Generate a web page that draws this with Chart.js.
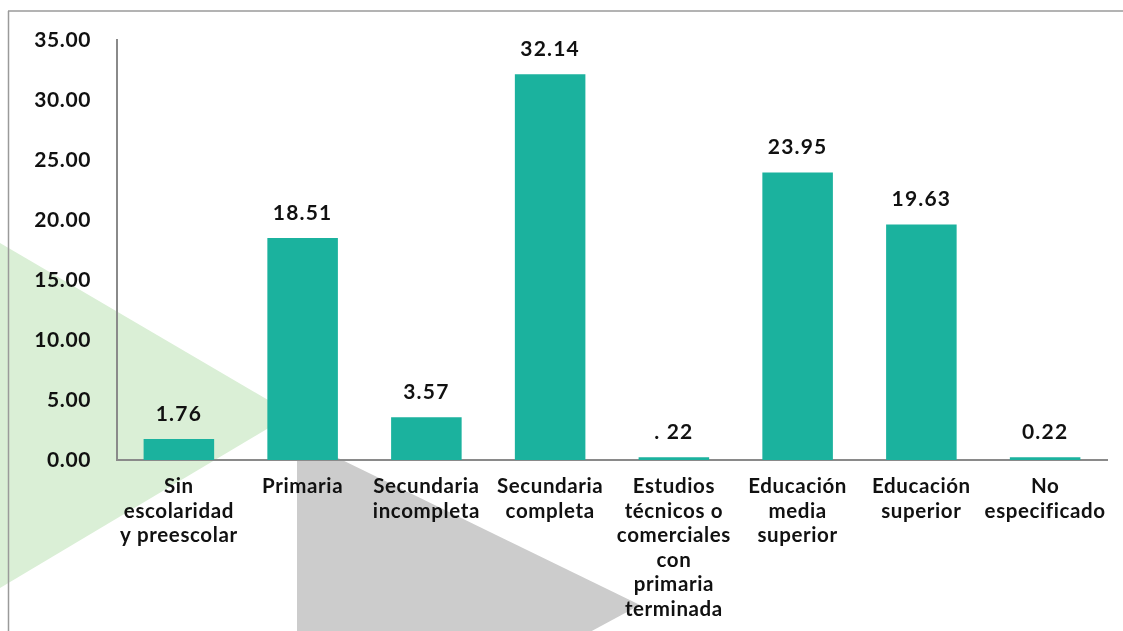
<!DOCTYPE html>
<html>
<head>
<meta charset="utf-8">
<script src="https://cdn.jsdelivr.net/npm/chart.js@4"></script>
<style>
  html, body { margin: 0; padding: 0; background: #fff; }
  #wrap { position: relative; width: 1123px; height: 631px; overflow: hidden; }
  #bg { position: absolute; left: 0; top: 0; }
  #chart { position: absolute; left: 0; top: 0; }
</style>
</head>
<body>
<div id="wrap">
  <!-- decorative background: triangles + frame -->
  <svg id="bg" width="1123" height="631">
    <polygon points="0,243 292,414 0,588" fill="#daefd6"/>
    <polygon points="297,438 640,605 297,790" fill="#cccccc"/>
    <line x1="8" y1="11" x2="1123" y2="11" stroke="#9a9a9a" stroke-width="1.5"/>
    <line x1="8.5" y1="11" x2="8.5" y2="631" stroke="#9a9a9a" stroke-width="1.5"/>
  </svg>
  <canvas id="chart" width="1123" height="631"></canvas>
</div>
<script>
// ---------- Data ----------
const categories = [
  ["Sin", "escolaridad", "y preescolar"],
  ["Primaria"],
  ["Secundaria", "incompleta"],
  ["Secundaria", "completa"],
  ["Estudios", "técnicos o", "comerciales", "con", "primaria", "terminada"],
  ["Educación", "media", "superior"],
  ["Educación", "superior"],
  ["No", "especificado"]
];
const values = [1.76, 18.51, 3.57, 32.14, 0.22, 23.95, 19.63, 0.22];
const valueLabels = ["1.76", "18.51", "3.57", "32.14", ". 22", "23.95", "19.63", "0.22"];

const FONT = "Lato, 'DejaVu Sans', sans-serif";

// wider letter spacing, closer to the original's geometric font
const spacing = {
  id: "spacing",
  beforeUpdate(chart) { chart.ctx.letterSpacing = "0.6px"; },
  beforeDraw(chart) { chart.ctx.letterSpacing = "0.6px"; }
};

// ---------- Value labels above bars ----------
const barLabels = {
  id: "barLabels",
  afterDatasetsDraw(chart) {
    const ctx = chart.ctx;
    const meta = chart.getDatasetMeta(0);
    ctx.save();
    ctx.letterSpacing = "1.2px";
    ctx.font = "bold 21px " + FONT;
    ctx.fillStyle = "#111";
    ctx.textAlign = "center";
    ctx.textBaseline = "middle";
    meta.data.forEach((bar, i) => {
      ctx.fillText(valueLabels[i], bar.x, bar.y - 25);
    });
    ctx.restore();
  }
};

new Chart(document.getElementById("chart").getContext("2d"), {
  type: "bar",
  data: {
    labels: categories,
    datasets: [{
      data: values,
      backgroundColor: "#1bb29e",
      categoryPercentage: 1,
      barPercentage: 0.57
    }]
  },
  options: {
    responsive: false,
    animation: false,
    layout: { padding: { top: 40, right: 16, left: 0, bottom: 0 } },
    plugins: { legend: { display: false }, tooltip: { enabled: false } },
    scales: {
      y: {
        min: 0,
        max: 35,
        afterFit(scale) { scale.width = 117; },
        grid: { display: false, drawTicks: false },
        border: { display: true, color: "#8a8a8a", width: 2 },
        ticks: {
          stepSize: 5,
          padding: 26,
          color: "#111",
          font: { family: FONT, size: 21, weight: "bold" },
          callback: v => v.toFixed(2)
        }
      },
      x: {
        afterFit(scale) { scale.height = 171; },
        grid: { display: false, drawTicks: false },
        border: { display: true, color: "#8a8a8a", width: 2 },
        ticks: {
          padding: 14,
          maxRotation: 0,
          autoSkip: false,
          color: "#111",
          font: { family: FONT, size: 20.5, weight: "bold", lineHeight: 1.2 }
        }
      }
    }
  },
  plugins: [spacing, barLabels]
});
</script>
</body>
</html>
